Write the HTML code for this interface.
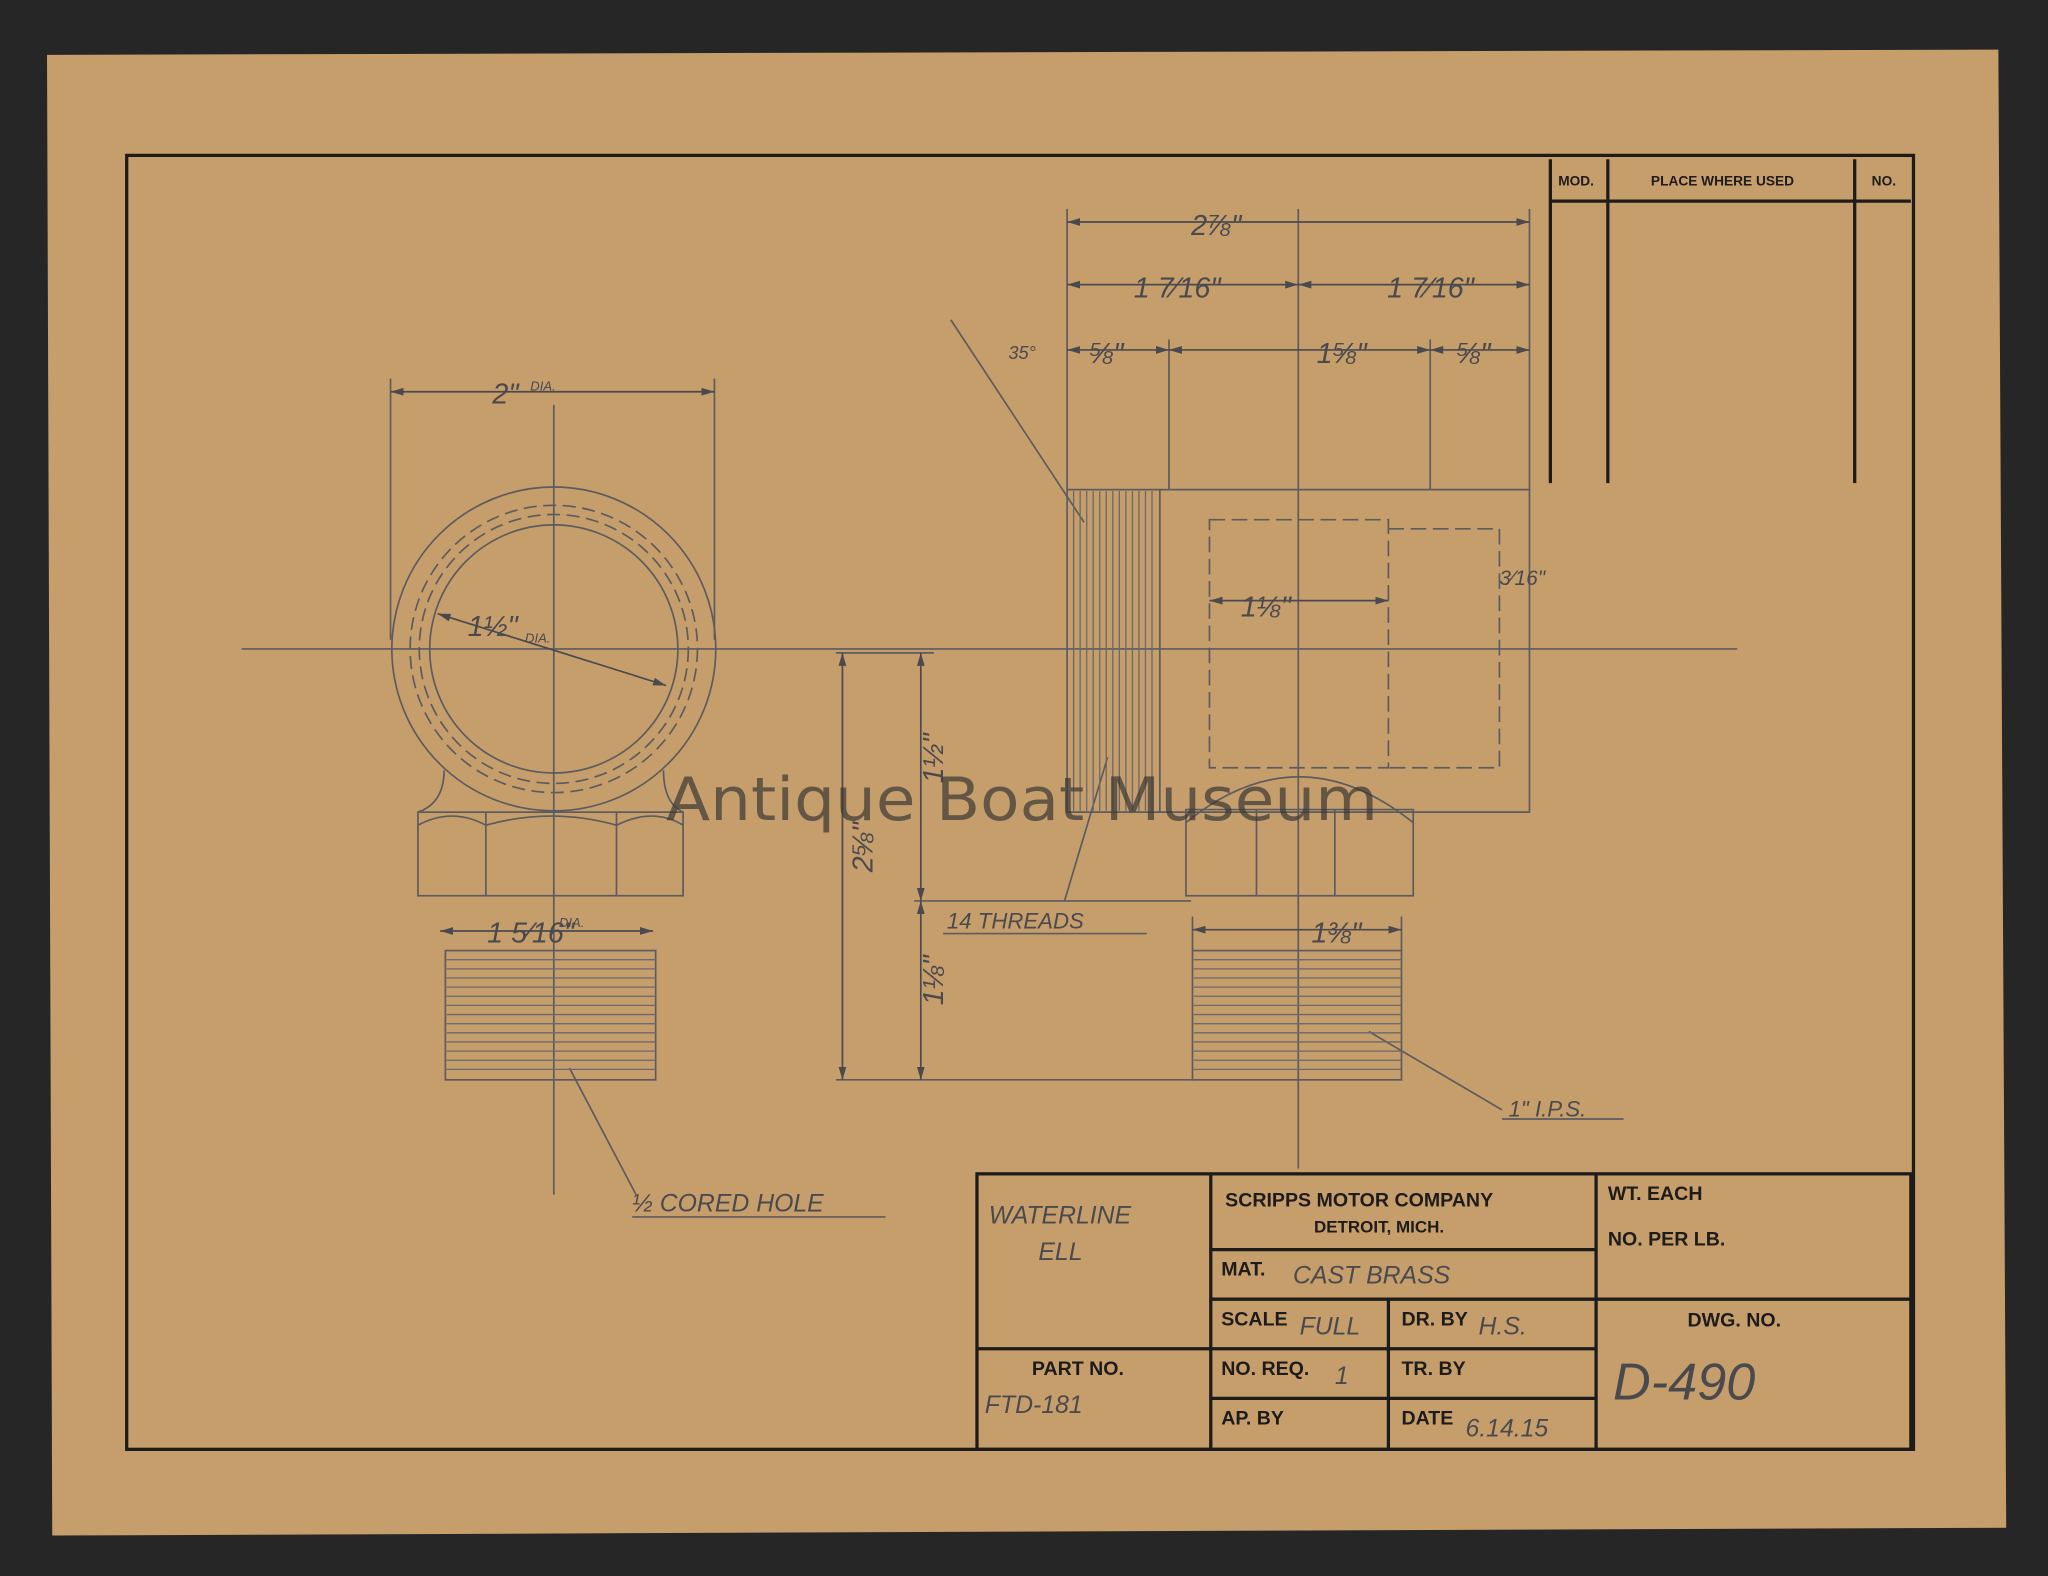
<!DOCTYPE html>
<html><head><meta charset="utf-8"><style>
html,body{margin:0;padding:0;background:#262626;}
svg{display:block}
.t{font-family:"Liberation Sans",sans-serif;font-weight:bold;fill:#1e1c1a}
.h{font-family:"Liberation Sans",sans-serif;font-style:italic;fill:#4a4a4e}
</style></head><body>
<svg width="2048" height="1576" viewBox="0 0 1568 1207" preserveAspectRatio="none" xmlns="http://www.w3.org/2000/svg">
<defs><marker id="a" viewBox="0 0 10 6" refX="10" refY="3" markerWidth="10" markerHeight="6" orient="auto-start-reverse" markerUnits="userSpaceOnUse"><path d="M0,0L10,3L0,6Z" fill="#4a4a4e"/></marker></defs>
<rect x="0" y="0" width="1568" height="1207" fill="#262626"/>
<path d="M36,42 L1530,38 L1536,1170 L40,1176 Z" fill="#c69e6c"/>
<g stroke="#1e1c1a" fill="none" stroke-width="2.5">
<rect x="97" y="119" width="1368" height="991"/>
<path d="M1187,122V370M1231,122V370M1420,122V370M1187,154H1463"/>
<rect x="748" y="899" width="715" height="211"/>
<path d="M927,899V1110M1222,899V1110M748,1033H927M927,957H1222M927,995H1463M927,1033H1222M927,1071H1222M1063,995V1110"/>
</g>
<g class="t" font-size="10.5">
<text x="1193" y="142">MOD.</text><text x="1264" y="142">PLACE WHERE USED</text><text x="1433" y="142">NO.</text>
</g>
<g class="t" font-size="15">
<text x="938" y="924">SCRIPPS MOTOR COMPANY</text>
<text x="1006" y="944" font-size="13">DETROIT, MICH.</text>
<text x="1231" y="919">WT. EACH</text><text x="1231" y="954">NO. PER LB.</text>
<text x="935" y="977">MAT.</text><text x="935" y="1015">SCALE</text><text x="1073" y="1015">DR. BY</text>
<text x="1292" y="1016">DWG. NO.</text><text x="790" y="1053">PART NO.</text>
<text x="935" y="1053">NO. REQ.</text><text x="1073" y="1053">TR. BY</text>
<text x="935" y="1091">AP. BY</text><text x="1073" y="1091">DATE</text>
</g>
<g class="h" font-size="19">
<text x="757" y="937">WATERLINE</text><text x="795" y="965">ELL</text>
<text x="990" y="983">CAST BRASS</text><text x="995" y="1022">FULL</text><text x="1132" y="1022">H.S.</text>
<text x="1022" y="1060">1</text><text x="1122" y="1100">6.14.15</text>
<text x="754" y="1082">FTD-181</text>
<text x="1235" y="1072" font-size="40">D-490</text>
<text x="725" y="711" font-size="17">14 THREADS</text>
<text x="484" y="928">½ CORED HOLE</text>
<text x="1155" y="855" font-size="17">1" I.P.S.</text>
</g>
<g stroke="#5c5c5e" fill="none" stroke-width="1.3">
<path d="M185,497H1330M424,310V915M994,160V895"/>
<circle cx="424" cy="497" r="124"/><circle cx="424" cy="497" r="95"/>
<circle cx="424" cy="497" r="110" stroke-dasharray="10,5"/><circle cx="424" cy="497" r="103" stroke-dasharray="10,5"/>
<path d="M340,590 Q340,615 320,622 M508,590 Q508,615 523,622"/>
<rect x="320" y="622" width="203" height="64"/><path d="M372,622V686M472,622V686M320,632Q346,618 372,632M372,632Q422,618 472,632M472,632Q500,618 523,632"/>
<rect x="341" y="728" width="161" height="99"/>
<path d="M299,290V490M547,290V490"/>
<path d="M817,375H1171V622H817ZM888,375V622M817,160V375M1171,160V375M895,260V375M1095,260V375"/>
<rect x="926" y="398" width="137" height="190" stroke-dasharray="12,5"/>
<path d="M1063,405H1148V588H1063" stroke-dasharray="12,5"/>
<path d="M728,245L830,400M848,580L815,690"/>
<path d="M908,620H1082V686H908ZM908,630Q994,560 1082,630M962,620V686M1022,620V686"/>
<rect x="913" y="728" width="160" height="99"/>
<path d="M913,702V728M1073,702V728"/>
<path d="M640,500H715M640,827H915M700,690H912M1048,790L1150,850M1150,857H1243M722,715H878M484,932H678"/>
<path d="M436,818L487,915"/>
</g>
<g stroke="#4a4a4e" fill="none" stroke-width="1.3" marker-start="url(#a)" marker-end="url(#a)">
<path d="M299,300H547"/><path d="M817,170H1171"/><path d="M817,218H994"/><path d="M994,218H1171"/>
<path d="M817,268H895"/><path d="M895,268H1095"/><path d="M1095,268H1171"/>
<path d="M926,460H1063"/><path d="M337,713H500"/><path d="M913,712H1073"/>
<path d="M645,500V827"/><path d="M705,500V690"/><path d="M705,690V827"/>
<path d="M335,470L510,525"/>
</g>
<g stroke="#6a6a6c" stroke-width="1">
<path d="M342,735H502M342,742H502M342,749H502M342,756H502M342,763H502M342,770H502M342,777H502M342,784H502M342,791H502M342,798H502M342,805H502M342,812H502M342,819H502"/>
<path d="M914,735H1073M914,742H1073M914,749H1073M914,756H1073M914,763H1073M914,770H1073M914,777H1073M914,784H1073M914,791H1073M914,798H1073M914,805H1073M914,812H1073M914,819H1073"/>
<path d="M822,376V621M827,376V621M832,376V621M837,376V621M842,376V621M847,376V621M852,376V621M857,376V621M862,376V621M867,376V621M872,376V621M877,376V621M882,376V621"/>
</g>
<g class="h" font-size="22" fill="#4a4a4e">
<text x="377" y="309">2"</text><text x="406" y="299" font-size="10">DIA.</text>
<text x="912" y="180">2⅞"</text><text x="868" y="228">1 7⁄16"</text><text x="1062" y="228">1 7⁄16"</text>
<text x="772" y="275" font-size="14">35°</text><text x="834" y="278">⅝"</text><text x="1008" y="278">1⅝"</text><text x="1115" y="278">⅝"</text>
<text x="358" y="487">1½"</text><text x="402" y="492" font-size="10">DIA.</text>
<text x="950" y="472">1⅛"</text><text x="1148" y="448" font-size="16">3⁄16"</text>
<text x="373" y="722">1 5⁄16"</text><text x="428" y="710" font-size="10">DIA.</text>
<text x="1004" y="722">1⅜"</text>
<text transform="translate(668,668) rotate(-90)">2⅝"</text>
<text transform="translate(722,600) rotate(-90)">1½"</text>
<text transform="translate(722,770) rotate(-90)">1⅛"</text>
</g>
<text x="510" y="628" font-family="'DejaVu Sans',sans-serif" font-size="46" textLength="545" lengthAdjust="spacingAndGlyphs" fill="#3a3835" fill-opacity="0.7">Antique Boat Museum</text>
</svg>
</body></html>
